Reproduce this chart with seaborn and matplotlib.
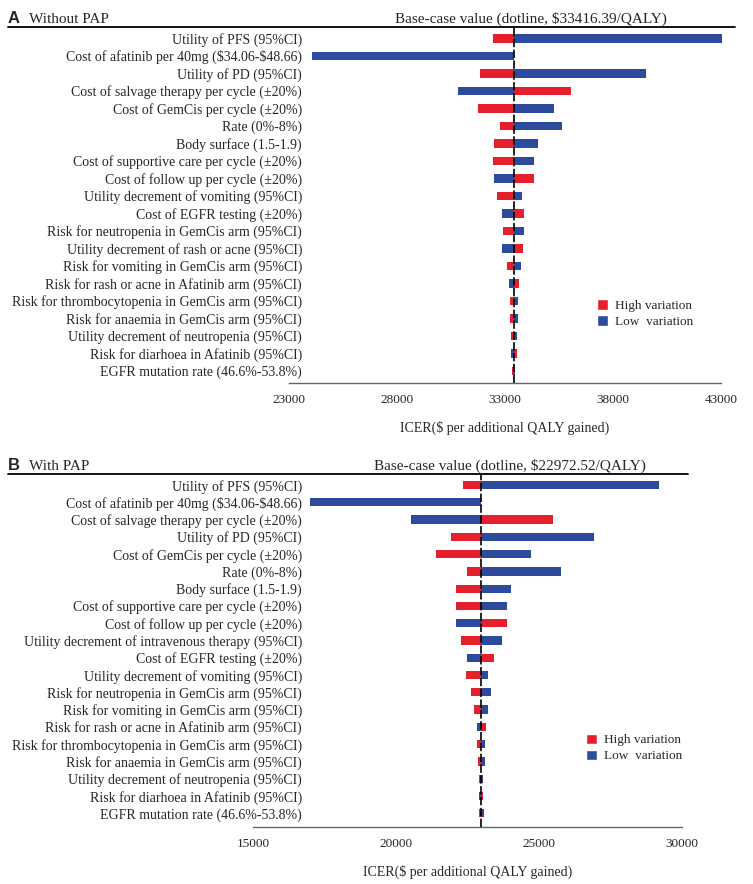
import numpy as np
import pandas as pd
import matplotlib
matplotlib.use('Agg')
import matplotlib.pyplot as plt
from matplotlib.patches import Patch
from matplotlib.lines import Line2D
import seaborn as sns

# panel A: without PAP
labels_a = ['Utility of PFS (95%CI)',
            'Cost of afatinib per 40mg (\\$34.06-\\$48.66)',
            'Utility of PD (95%CI)',
            'Cost of salvage therapy per cycle (±20%)',
            'Cost of GemCis per cycle (±20%)',
            'Rate (0%-8%)',
            'Body surface (1.5-1.9)',
            'Cost of supportive care per cycle (±20%)',
            'Cost of follow up per cycle (±20%)',
            'Utility decrement of vomiting (95%CI)',
            'Cost of EGFR testing (±20%)',
            'Risk for neutropenia in GemCis arm (95%CI)',
            'Utility decrement of rash or acne (95%CI)',
            'Risk for vomiting in GemCis arm (95%CI)',
            'Risk for rash or acne in Afatinib arm (95%CI)',
            'Risk for thrombocytopenia in GemCis arm (95%CI)',
            'Risk for anaemia in GemCis arm (95%CI)',
            'Utility decrement of neutropenia (95%CI)',
            'Risk for diarhoea in Afatinib (95%CI)',
            'EGFR mutation rate (46.6%-53.8%)']
high_a = [32430, 33416.39, 31840, 36060, 31760, 32770, 32490, 32460, 34330, 32630,
          33890, 32920, 33820, 33090, 33650, 33230, 33230, 33290, 33540, 33340]
low_a = [43060, 24050, 39510, 30820, 35270, 35640, 34530, 34360, 32490, 33800,
         32870, 33890, 32860, 33730, 33170, 33600, 33600, 33560, 33290, 33480]
base_a = 33416.39
ticks_a = [23000, 28000, 33000, 38000, 43000]

# panel B: with PAP
labels_b = ['Utility of PFS (95%CI)',
            'Cost of afatinib per 40mg (\\$34.06-\\$48.66)',
            'Cost of salvage therapy per cycle (±20%)',
            'Utility of PD (95%CI)',
            'Cost of GemCis per cycle (±20%)',
            'Rate (0%-8%)',
            'Body surface (1.5-1.9)',
            'Cost of supportive care per cycle (±20%)',
            'Cost of follow up per cycle (±20%)',
            'Utility decrement of intravenous therapy (95%CI)',
            'Cost of EGFR testing (±20%)',
            'Utility decrement of vomiting (95%CI)',
            'Risk for neutropenia in GemCis arm (95%CI)',
            'Risk for vomiting in GemCis arm (95%CI)',
            'Risk for rash or acne in Afatinib arm (95%CI)',
            'Risk for thrombocytopenia in GemCis arm (95%CI)',
            'Risk for anaemia in GemCis arm (95%CI)',
            'Utility decrement of neutropenia (95%CI)',
            'Risk for diarhoea in Afatinib (95%CI)',
            'EGFR mutation rate (46.6%-53.8%)']
high_b = [22335, 22972.52, 25480, 21930, 21405, 22460, 22090, 22080, 23860, 22280,
          23425, 22450, 22620, 22730, 23125, 22820, 22860, 22880, 23030, 22900]
low_b = [29200, 16980, 20510, 26900, 24710, 25750, 24000, 23860, 22090, 23700,
         22470, 23205, 23300, 23205, 22810, 23110, 23110, 23040, 22900, 23060]
base_b = 22972.52
ticks_b = [15000, 20000, 25000, 30000]

RED = '#E3202B'
BLUE = '#2D4B9E'

sns.set_style('white')
plt.rcParams['font.family'] = ['Liberation Serif', 'DejaVu Serif']
plt.rcParams['axes.unicode_minus'] = False

W, H = 753, 884
fig = plt.figure(figsize=(W / 100, H / 100), dpi=100)


def fx(x):
    return x / W


def fy(y):
    return 1 - y / H


def tornado(ax, labels, high, low, base, ticks, ylim, label_pad):
    df = pd.DataFrame({'label': labels,
                       'high': np.array(high) - base,
                       'low': np.array(low) - base})
    for col, c in [('low', BLUE), ('high', RED)]:
        sns.barplot(data=df, x=col, y='label', orient='y', color=c, saturation=1,
                    width=0.48, errorbar=None, left=base, clip_on=False,
                    linewidth=0, ax=ax)
    ax.axvline(base, color='black', lw=1.2, ls=(0, (5, 1.5)), zorder=5)
    ax.set_xlim(ticks[0], ticks[-1])
    ax.set_ylim(*ylim)
    for s in ['top', 'left', 'right']:
        ax.spines[s].set_visible(False)
    ax.spines['bottom'].set_color('#666666')
    ax.spines['bottom'].set_linewidth(1)
    ax.set_xticks(ticks)
    ax.set_xticklabels([str(t) for t in ticks])
    ax.tick_params(axis='x', direction='in', length=4, width=1, color='#666666',
                   labelsize=9.5, pad=8)
    ax.tick_params(axis='y', length=0, pad=label_pad, labelsize=10)
    ax.set_ylabel('')
    ax.set_xlabel('ICER(\\$ per additional QALY gained)', fontsize=10, labelpad=11)


ax_a = fig.add_axes([fx(289), fy(382.7), (721 - 289) / W, (382.7 - 27) / H])
tornado(ax_a, labels_a, high_a, low_a, base_a, ticks_a, (19.68, -0.646), -9.4)

ax_b = fig.add_axes([fx(253), fy(826.7), (682.3 - 253) / W, (826.7 - 474) / H])
tornado(ax_b, labels_b, high_b, low_b, base_b, ticks_b, (19.78, -0.637), -35.3)

# header lines and titles
for y, x1 in [(27, 735), (474, 688)]:
    fig.add_artist(Line2D([fx(8), fx(x1)], [fy(y), fy(y)], color='black', lw=1.3,
                          transform=fig.transFigure))

for y, letter, name, base, xc in [(23, 'A', 'Without PAP', base_a, 531),
                                  (470, 'B', 'With PAP', base_b, 510)]:
    fig.text(fx(8), fy(y), letter, fontfamily='Liberation Sans', fontweight='bold',
             fontsize=12, va='baseline')
    fig.text(fx(29), fy(y), name, fontsize=11, va='baseline')
    fig.text(fx(xc), fy(y), 'Base-case value (dotline, \\$%.2f/QALY)' % base,
             fontsize=11, va='baseline', ha='center')

handles = [Patch(facecolor=RED), Patch(facecolor=BLUE)]
for x, y in [(597, 299), (586, 733.5)]:
    fig.legend(handles, ['High variation', 'Low  variation'], loc='upper left',
               bbox_to_anchor=(fx(x), fy(y)), frameon=False, fontsize=9.5,
               handlelength=0.85, handleheight=0.85, handletextpad=0.5,
               labelspacing=0.25, borderpad=0, borderaxespad=0)

fig.savefig('out.png', dpi=100)
